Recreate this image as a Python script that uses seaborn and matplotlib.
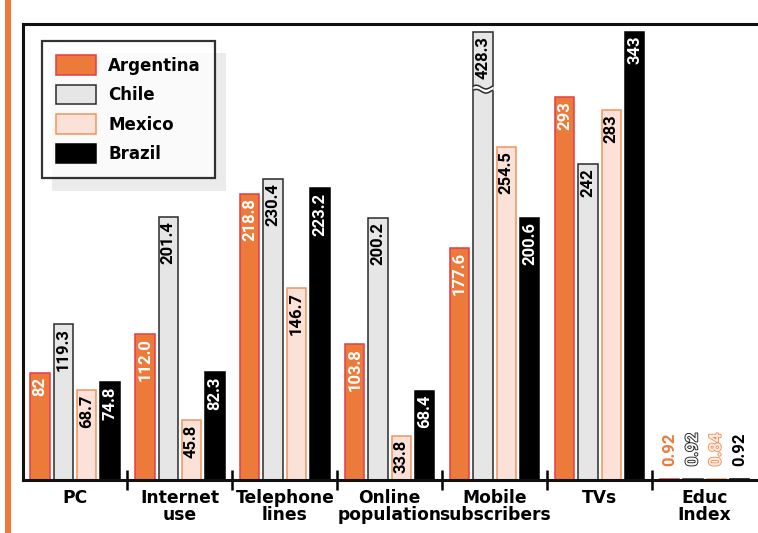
import numpy as np
import pandas as pd
import matplotlib
matplotlib.use("Agg")
import matplotlib.pyplot as plt
import matplotlib.patheffects as pe
from matplotlib.patches import Patch, Rectangle
import seaborn as sns

# ---- data -------------------------------------------------------------
categories = ["PC", "Internet\nuse", "Telephone\nlines", "Online\npopulation",
              "Mobile\nsubscribers", "TVs", "Educ\nIndex"]
countries = ["Argentina", "Chile", "Mexico", "Brazil"]

argentina = [82, 112.0, 218.8, 103.8, 177.6, 293, 0.92]
chile = [119.3, 201.4, 230.4, 200.2, 428.3, 242, 0.92]
mexico = [68.7, 45.8, 146.7, 33.8, 254.5, 283, 0.84]
brazil = [74.8, 82.3, 223.2, 68.4, 200.6, 343, 0.92]

argentina_labels = ["82", "112.0", "218.8", "103.8", "177.6", "293", "0.92"]
chile_labels = ["119.3", "201.4", "230.4", "200.2", "428.3", "242", "0.92"]
mexico_labels = ["68.7", "45.8", "146.7", "33.8", "254.5", "283", "0.84"]
brazil_labels = ["74.8", "82.3", "223.2", "68.4", "200.6", "343", "0.92"]

series = [argentina, chile, mexico, brazil]
series_labels = [argentina_labels, chile_labels, mexico_labels, brazil_labels]

# ---- styling ----------------------------------------------------------
fill_colors = ["#ec7a3a", "#e6e6e6", "#fbe1d8", "#000000"]
edge_colors = ["#e63c46", "#2b2b2b", "#f0955c", "#000000"]
inside_label_colors = ["white", "black", "black", "white"]
small_label_outline = [None, "#111111", "#f08a4c", None]
small_label_fill = ["#ec7a3a", "#f4f4f4", "#fdeae2", "#000000"]

Y_MAX = 349        # top of the value axis
BAR_CAP = 343      # bars taller than this are drawn broken
BREAK_AT = 299     # where the break mark sits on a capped bar

sns.set_style("white")
plt.rcParams["font.family"] = ["DejaVu Sans"]
plt.rcParams["font.weight"] = "bold"
plt.rcParams["text.color"] = "black"
plt.rcParams["xtick.color"] = "black"
plt.rcParams["xtick.labelcolor"] = "black"
NUM_FONT = ["Roboto", "DejaVu Sans"]

W, H = 758, 533
fig = plt.figure(figsize=(W / 100, H / 100), dpi=100)
fig.patch.set_facecolor("white")

ax_left, ax_right, ax_top, ax_bottom = 22.5, 757.0, 23.8, 480.0
ax = fig.add_axes([ax_left / W, (H - ax_bottom) / H,
                   (ax_right - ax_left) / W, (ax_bottom - ax_top) / H])
ax.set_facecolor("none")

df = pd.DataFrame({
    "category": categories * len(countries),
    "country": np.repeat(countries, len(categories)),
    "value": np.concatenate([np.asarray(s, float) for s in series]),
})
df["shown"] = df["value"].clip(upper=BAR_CAP)

sns.barplot(data=df, x="category", y="shown", hue="country",
            order=categories, hue_order=countries,
            palette=dict(zip(countries, fill_colors)), saturation=1,
            width=0.89, gap=0.17, legend=False, errorbar=None, ax=ax)

# per-country outline colours
for cont, ec in zip(ax.containers, edge_colors):
    for bar in cont.patches:
        bar.set_edgecolor(ec)
        bar.set_linewidth(1.1)
        bar.set_zorder(2)

# value labels and break marks
for i, (cont, vals, labs) in enumerate(zip(ax.containers, series, series_labels)):
    for bar, v, lab in zip(cont.patches, vals, labs):
        xc = bar.get_x() + bar.get_width() / 2
        h = bar.get_height()
        if v > 20:
            ax.annotate(lab, xy=(xc, h), xytext=(0, -3), textcoords="offset points",
                        rotation=90, ha="center", va="top", fontsize=12,
                        family=NUM_FONT, fontweight="bold",
                        color=inside_label_colors[i], zorder=5)
        else:
            t = ax.annotate(lab, xy=(xc, h), xytext=(0, 9), textcoords="offset points",
                            rotation=90, ha="center", va="bottom", fontsize=12,
                            family=NUM_FONT, fontweight="bold",
                            color=small_label_fill[i], zorder=5)
            if small_label_outline[i]:
                t.set_path_effects([pe.Stroke(linewidth=1.2, foreground=small_label_outline[i]),
                                    pe.Normal()])
        if v > BAR_CAP:
            x0, w = bar.get_x(), bar.get_width()
            xs = np.linspace(x0 - 0.004, x0 + w + 0.004, 80)
            wave = BREAK_AT + 1.4 * np.sin((xs - x0) / w * 2 * np.pi + 0.6)
            ax.fill_between(xs, wave - 1.6, wave + 1.6, color="white", zorder=3, lw=0)
            inner = (xs >= x0) & (xs <= x0 + w)
            ax.plot(xs[inner], wave[inner] + 1.6, color=edge_colors[i], lw=1.1, zorder=4)
            ax.plot(xs[inner], wave[inner] - 1.6, color=edge_colors[i], lw=1.1, zorder=4)

ax.set_xlim(-0.5, len(categories) - 0.5)
ax.set_ylim(0, Y_MAX)
ax.set_xlabel("")
ax.set_ylabel("")
ax.set_yticks([])

ax.set_xticks(range(len(categories)))
ax.set_xticklabels(categories, fontsize=12.3, fontweight="bold", linespacing=0.95,
                   color="black")
ax.set_xticks(np.arange(0.5, len(categories) - 1, 1), minor=True)
ax.tick_params(axis="x", which="major", length=0, pad=6.5)
ax.tick_params(axis="x", which="minor", direction="inout", length=15,
               width=1.8, color="black", bottom=True)

for side in ["left", "top", "bottom"]:
    ax.spines[side].set_visible(True)
    ax.spines[side].set_linewidth(2.2)
    ax.spines[side].set_color("#111111")
ax.spines["right"].set_visible(False)

# legend with an offset grey shadow
handles = [Patch(facecolor=fc, edgecolor=ec, linewidth=1.1, label=c)
           for c, fc, ec in zip(countries, fill_colors, edge_colors)]
leg = ax.legend(handles=handles, loc="upper left",
                bbox_to_anchor=(42 / W, 1 - 41 / H), bbox_transform=fig.transFigure,
                borderaxespad=0, fancybox=False, frameon=True,
                prop={"weight": "bold", "size": 12},
                handlelength=2.4, handleheight=1.45, handletextpad=0.72,
                labelspacing=0.58, borderpad=0.85, labelcolor="black")
leg.get_frame().set_edgecolor("black")
leg.get_frame().set_linewidth(1.6)
leg.get_frame().set_facecolor("white")
leg.set_zorder(6)

ax.add_patch(Rectangle((52 / W, 1 - 191 / H), 174 / W, 138 / H,
                       transform=fig.transFigure, facecolor="#ebebeb",
                       edgecolor="none", zorder=5.5, clip_on=False))

# orange stripe along the left edge
fig.add_artist(Rectangle((5 / W, 0), 6 / W, 1, transform=fig.transFigure,
                         facecolor="#ec7a3a", edgecolor="none"))

fig.savefig("out.png", dpi=100)
